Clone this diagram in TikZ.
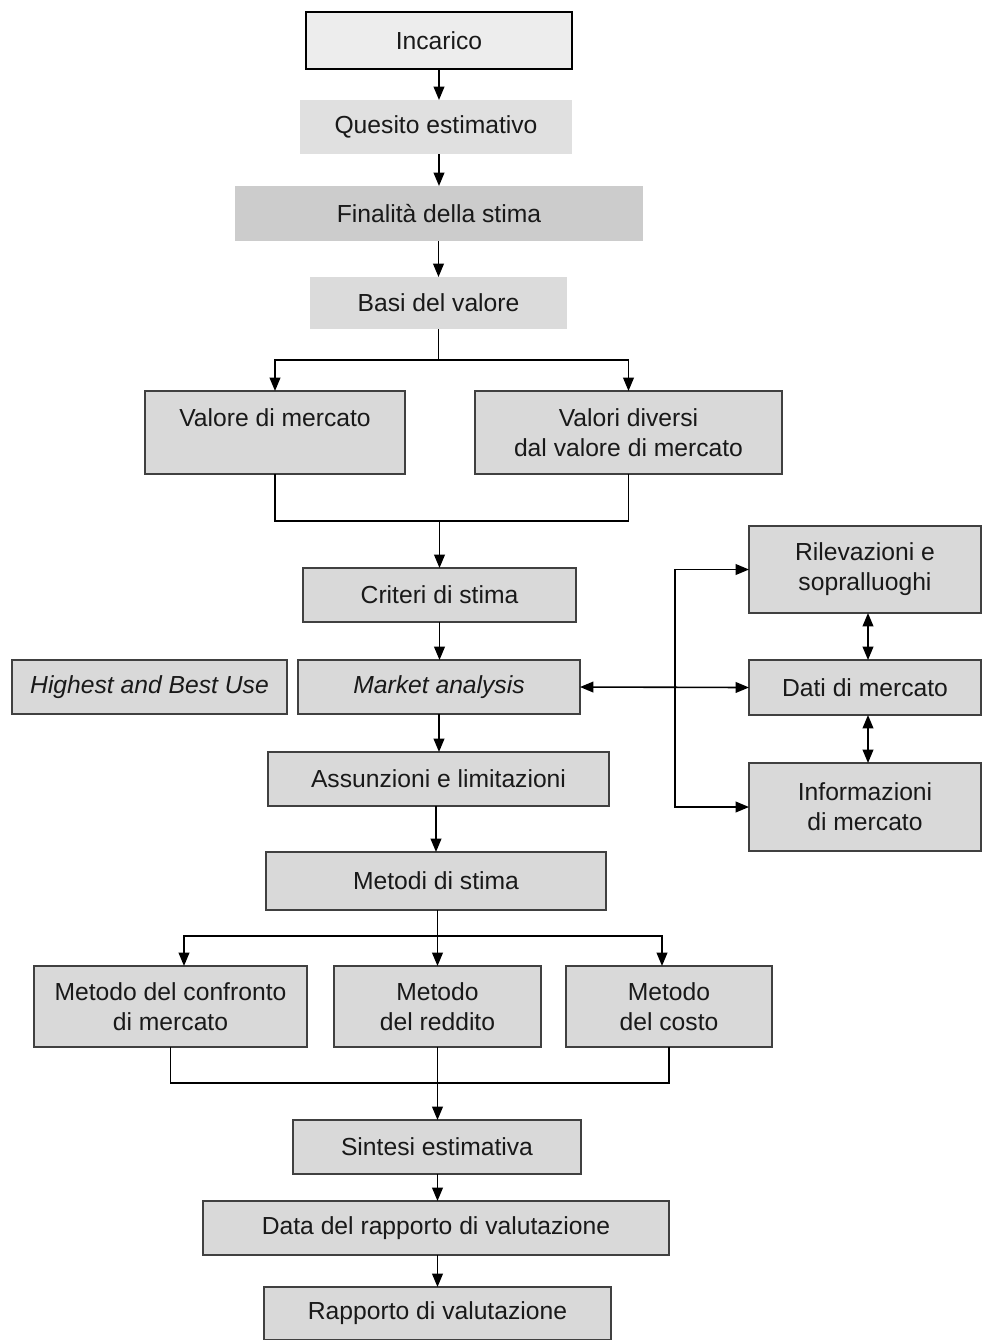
\documentclass[tikz,border=0pt]{standalone}
\usepackage{fontspec}
\setmainfont{Liberation Sans}
\usetikzlibrary{arrows.meta,calc}
\tikzset{
  px/.style={x=0.75pt,y=-0.75pt},
  sz/.style 2 args={minimum width=#1*0.75pt, minimum height=#2*0.75pt},
  base/.style={rectangle, inner sep=0pt, outer sep=0pt, align=center,
    font=\fontsize{18.5}{22.5}\selectfont, text=black!90},
  box/.style={base, fill=black!15, draw=black!75, line width=1pt},
  topbox/.style={base, fill=black!7, draw=black, line width=1pt},
  plain/.style={base, fill=#1},
  tip/.tip={Triangle[length=10pt,width=8pt]},
  arr/.style={-tip, line width=1.2pt},
  darr/.style={tip-tip, line width=1.2pt},
  ln/.style={line width=1.2pt}
}
\begin{document}
\begin{tikzpicture}[px]
\useasboundingbox[fill=white] (0,0) rectangle (982,1340);

\node[topbox, sz={266}{57}] (inc) at (439,40.5) {Incarico};
\node[plain=black!12, sz={272}{54}] (que) at (436,127) {Quesito estimativo};
\node[plain=black!20, sz={408}{55}] (fin) at (439,213.5) {Finalità della stima};
\node[plain=black!14, sz={257}{52}] (bas) at (438.5,303) {Basi del valore};

\node[box, sz={260}{83}] (vm) at (275,432.5) {Valore di mercato\\[0pt]~};
\node[box, sz={307}{83}] (vd) at (628.5,432.5) {Valori diversi\\dal valore di mercato};

\node[box, sz={273}{54}] (cri) at (439.5,595) {Criteri di stima};
\node[box, sz={282}{54}] (mkt) at (439,687) {\itshape Market analysis};
\node[box, sz={275}{54}] (hbu) at (149.5,687) {\itshape Highest and Best Use};
\node[box, sz={341}{54}] (ass) at (438.5,779) {Assunzioni e limitazioni};
\node[box, sz={340}{58}] (met) at (436,881) {Metodi di stima};

\node[box, sz={273}{81}] (mc) at (170.5,1006.5) {Metodo del confronto\\di mercato};
\node[box, sz={207}{81}] (mr) at (437.5,1006.5) {Metodo\\del reddito};
\node[box, sz={206}{81}] (mco) at (669,1006.5) {Metodo\\del costo};

\node[box, sz={288}{54}] (sin) at (437,1147) {Sintesi estimativa};
\node[box, sz={466}{54}] (dat) at (436,1228) {Data del rapporto di valutazione};
\node[box, sz={347}{53}] (rap) at (437.5,1313.5) {Rapporto di valutazione};

\node[box, sz={232}{87}] (ril) at (865,569.5) {Rilevazioni e\\sopralluoghi};
\node[box, sz={232}{55}] (dm) at (865,687.5) {Dati di mercato};
\node[box, sz={232}{88}] (inf) at (865,807) {Informazioni\\di mercato};

% main chain
\draw[arr] (inc.south) -- (inc.south |- que.north);
\draw[arr] (que.south -| inc.south) -- (fin.north -| inc.south);
\draw[arr] (fin.south -| bas.south) -- (bas.north);

\coordinate (j1) at (438.5,360);
\draw[ln] (bas) -- (j1);
\draw[arr] (j1) -| (vm.north);
\draw[arr] (j1) -| (vd.north);

\coordinate (j2) at (439.5,521);
\draw[ln] (vm.south) |- (j2);
\draw[ln] (vd.south) |- (j2);
\draw[arr] (j2) -- (cri.north);

\draw[arr] (cri.south) -- (cri.south |- mkt.north);
\draw[arr] (mkt.south) -- (mkt.south |- ass.north);
\draw[arr] (ass.south -| met.north) -- (met.north);

\coordinate (j3) at (437.5,936);
\draw[ln] (met.south -| j3) -- (j3);
\draw[arr] (j3) -| ([xshift=13.5*0.75pt]mc.north);
\draw[arr] (j3) -- (mr.north);
\draw[arr] (j3) -| ([xshift=-7*0.75pt]mco.north);

\coordinate (j4) at (437.5,1083);
\draw[ln] (mc.south) |- (j4);
\draw[ln] (mco.south) |- (j4);
\draw[arr] (mr.south) -- (sin.north -| mr.south);

\draw[arr] (sin.south -| mr.south) -- (dat.north -| mr.south);
\draw[arr] (dat.south -| mr.south) -- (rap.north -| mr.south);

% right side
\coordinate (vx) at (675,687);
\draw[darr] (mkt.east) -- (dm.west);
\draw[arr] (vx) |- (ril.west);
\draw[arr] (vx) |- (inf.west);
\draw[darr] ([xshift=3*0.75pt]ril.south) -- ([xshift=3*0.75pt]dm.north);
\draw[darr] ([xshift=3*0.75pt]dm.south) -- ([xshift=3*0.75pt]inf.north);
\end{tikzpicture}
\end{document}
